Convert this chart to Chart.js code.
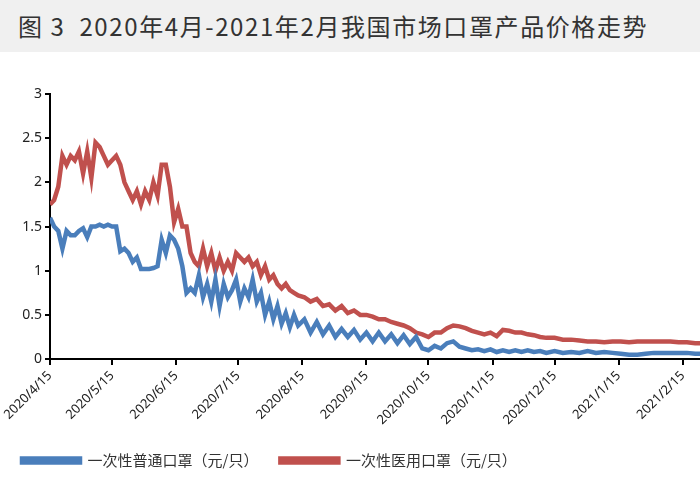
<!DOCTYPE html>
<html><head><meta charset="utf-8">
<script src="https://cdn.jsdelivr.net/npm/chart.js@4"></script>
<style>
html,body{margin:0;padding:0;width:700px;height:500px;overflow:hidden;background:#fff;font-family:"Noto Sans CJK SC","Noto Sans",sans-serif}
#title{height:52px;background:#f0f0f0;color:#333;font-size:24px;line-height:52px;padding-left:18px;white-space:nowrap;letter-spacing:1.6px}
#wrap{position:absolute;left:0;top:50px;width:780px;height:450px}
</style></head><body>
<div id="title">图 3&nbsp; 2020年4月-2021年2月我国市场口罩产品价格走势</div>
<div id="wrap"><canvas id="c"></canvas></div>
<script>
const tickDays=[0,30,61,91,122,153,183,214,244,275,306];
const tickLabels=["2020/4/15","2020/5/15","2020/6/15","2020/7/15","2020/8/15","2020/9/15","2020/10/15","2020/11/15","2020/12/15","2021/1/15","2021/2/15"];
const days=[0,2,4,6,8,10,12,14,16,18,20,22,24,26,28,30,32,34,36,38,40,42,44,46,48,50,52,54,56,58,60,62,64,66,68,70,72,74,76,78,80,82,84,86,88,90,92,94,96,98,100,102,104,106,108,110,112,114,116,118,120,123,126,129,132,135,138,141,144,147,150,153,156,159,162,165,168,171,174,177,180,183,186,189,192,195,198,201,204,207,210,213,216,219,222,225,228,231,234,237,240,244,248,252,256,260,264,268,272,276,280,284,288,292,296,300,304,308,312,316];
const blue=[1.6,1.5,1.45,1.25,1.45,1.4,1.4,1.45,1.48,1.38,1.5,1.5,1.52,1.5,1.52,1.5,1.5,1.22,1.25,1.2,1.1,1.15,1.02,1.02,1.02,1.03,1.05,1.35,1.2,1.4,1.35,1.25,1.05,0.75,0.8,0.75,0.95,0.7,0.85,0.65,0.9,0.6,0.85,0.7,0.78,0.9,0.65,0.8,0.7,0.9,0.65,0.75,0.5,0.65,0.45,0.6,0.4,0.52,0.36,0.5,0.38,0.45,0.3,0.42,0.28,0.38,0.25,0.34,0.25,0.33,0.22,0.3,0.2,0.3,0.2,0.28,0.18,0.27,0.17,0.25,0.12,0.1,0.15,0.12,0.18,0.2,0.14,0.12,0.1,0.11,0.09,0.11,0.08,0.1,0.08,0.1,0.08,0.1,0.08,0.09,0.07,0.09,0.07,0.08,0.07,0.09,0.07,0.08,0.07,0.06,0.05,0.05,0.06,0.07,0.07,0.07,0.07,0.07,0.06,0.06];
const red=[1.75,1.8,1.95,2.3,2.2,2.3,2.25,2.35,2.1,2.35,2.05,2.45,2.4,2.3,2.2,2.25,2.3,2.2,2.0,1.9,1.8,1.9,1.75,1.9,1.8,2.0,1.85,2.2,2.2,1.95,1.55,1.7,1.5,1.5,1.2,1.1,1.05,1.25,1.05,1.2,1.0,1.15,1.0,1.1,1.0,1.2,1.15,1.1,1.15,1.05,1.1,0.95,1.05,0.9,0.95,0.85,0.8,0.85,0.78,0.75,0.72,0.7,0.65,0.68,0.6,0.62,0.55,0.6,0.52,0.55,0.5,0.5,0.48,0.45,0.45,0.42,0.4,0.38,0.35,0.3,0.28,0.25,0.3,0.3,0.35,0.38,0.37,0.35,0.32,0.3,0.28,0.3,0.26,0.33,0.32,0.3,0.3,0.28,0.27,0.25,0.24,0.24,0.22,0.22,0.21,0.2,0.2,0.19,0.2,0.2,0.19,0.2,0.2,0.2,0.2,0.2,0.19,0.19,0.18,0.18];
const seriesNames=["一次性普通口罩（元/只）","一次性医用口罩（元/只）"];
const pts=(ys)=>days.map((d,i)=>({x:d,y:ys[i]}));
new Chart(document.getElementById('c'),{
 type:'line',
 data:{datasets:[
  {label:seriesNames[0],data:pts(blue),borderColor:'#4a7ebb',backgroundColor:'#4a7ebb',borderWidth:4.5,pointRadius:0,tension:0},
  {label:seriesNames[1],data:pts(red),borderColor:'#c0504d',backgroundColor:'#c0504d',borderWidth:4.5,pointRadius:0,tension:0}]},
 options:{responsive:true,maintainAspectRatio:false,animation:false,
  layout:{padding:{left:0,right:0,top:44,bottom:22}},
  plugins:{legend:{position:'bottom',align:'start',labels:{boxWidth:58,boxHeight:4,color:'#333',padding:22,font:{size:15,family:'"Noto Sans CJK SC"'}}},tooltip:{enabled:false}},
  scales:{
   x:{type:'linear',min:0,max:353,
     afterBuildTicks:s=>{s.ticks=tickDays.map(v=>({value:v}));},
     ticks:{autoSkip:false,minRotation:45,maxRotation:45,color:'#222',font:{size:13,family:'"Noto Sans"'},callback:(v)=>{const i=tickDays.indexOf(v);return i>=0?tickLabels[i]:'';}},
     grid:{drawOnChartArea:false,tickLength:6,color:'#000',lineWidth:2},border:{color:'#000',width:2}},
   y:{min:0,max:3,afterFit:s=>{s.width=50;},
     ticks:{stepSize:0.5,color:'#222',font:{size:14,family:'"Noto Sans"'},callback:v=>String(v)},
     grid:{drawOnChartArea:false,tickLength:5,color:'#000',lineWidth:2},border:{color:'#000',width:2}}
  }}
});
</script></body></html>
